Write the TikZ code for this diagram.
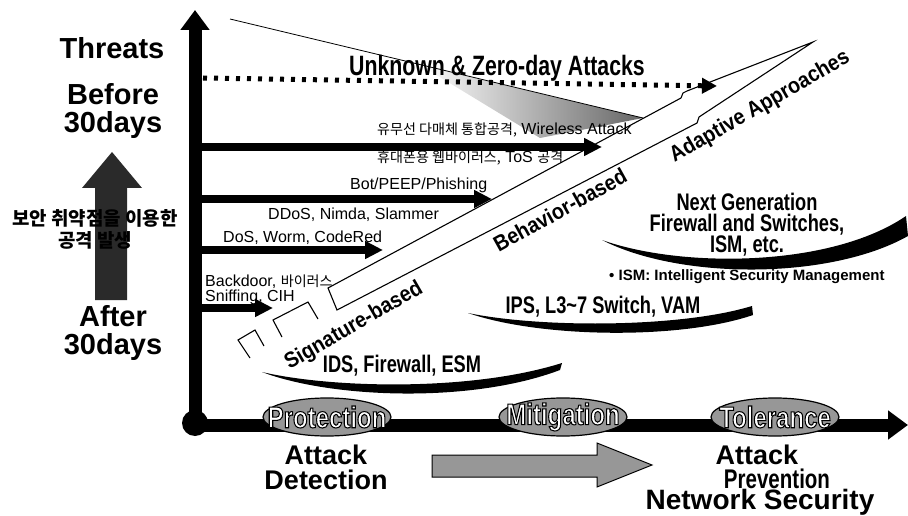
\documentclass[tikz,border=0pt]{standalone}
\usepackage{fontspec}
\setmainfont{Liberation Sans}
\newfontfamily\krfont[Scale=0.88]{Noto Sans CJK KR}
\newfontfamily\condfont[FakeStretch=0.76]{Liberation Sans}
\newfontfamily\slantfont[FakeStretch=0.9]{Liberation Sans}
\newfontfamily\phasefont[FakeStretch=0.8, FakeBold=3.5]{Liberation Sans}
\usepackage{tikz}
\usetikzlibrary{arrows.meta, shapes.geometric, positioning}
\definecolor{stipple}{HTML}{979797}
\definecolor{arrowInk}{HTML}{2A2A2A}
\newcommand{\hangul}[1]{{\krfont #1}}
\newcommand{\outlined}[1]{\special{pdf:code 0 G}#1}

\begin{document}
\begin{tikzpicture}[x=1pt, y=-1pt,
        axis/.style={line width=13pt, -{Triangle[length=20pt, width=28pt]}},
        threat/.style={line width=8pt, -{Triangle[length=18pt, width=17pt]}},
        zeroday/.style={line width=5pt, dash pattern=on 4pt off 7pt, -{Triangle[length=15pt, width=15pt]}},
        band/.style={line width=1.1pt},
        lbl/.style={anchor=west, inner sep=0pt, font=\fontsize{16}{18}\selectfont},
        big/.style={align=center, inner sep=0pt, font=\bfseries\fontsize{29}{28}\selectfont},
        bot/.style={align=center, inner sep=0pt, font=\bfseries\fontsize{27}{25}\selectfont},
        kor/.style={align=center, inner sep=0pt, font=\krfont\bfseries\fontsize{21.5}{22}\selectfont},
        prod/.style={align=center, inner sep=0pt, font=\condfont\bfseries\fontsize{24}{21}\selectfont},
        zerolbl/.style={inner sep=0pt, font=\condfont\bfseries\fontsize{28}{28}\selectfont},
        approach/.style={inner sep=0pt, font=\slantfont\bfseries\fontsize{22}{22}\selectfont},
        note/.style={inner sep=0pt, font=\bfseries\fontsize{15}{15}\selectfont},
        phasebg/.style={draw=black, line width=1.2pt, fill=stipple},
        phase/.style={inner sep=0pt, text=white, font=\phasefont\bfseries\fontsize{30}{30}\selectfont}]
    \useasboundingbox (0,0) rectangle (908,516);

    % beam over the newest attacks
    \shade[left color=white, right color=black!60] (420,65) -- (643,118) -- (540,138) -- cycle;
    \draw[line width=0.8pt] (230,19) -- (643,118);

    % signature / behavior / adaptive band
    \draw[band, fill=white] (328,288) -- (681,98) -- (683,93) -- (687,91) -- (813,42)
        -- (699,117) -- (697,123) -- (337,310) -- cycle;
    \draw[band] (250,358) -- (238,340) -- (255,330) -- (264,346);
    \draw[band] (282,337) -- (273,320) -- (308,302) -- (318,319);

    % threats
    \foreach \i/\y/\e in {1/147/602, 2/199/492, 3/250/383, 4/308/273} {
        \coordinate (s\i) at (201,\y);
        \coordinate (e\i) at (\e,\y);
        \draw[threat] (s\i) -- (e\i);
    }
    \coordinate (z0) at (203,78);
    \coordinate (z1) at (717,86);
    \draw[zeroday] (z0) -- (z1);

    \node[zerolbl] (zero) at (497,68) {Unknown \& Zero-day Attacks};
    \node[lbl] (wire) at (377,130) {\hangul{유무선 다매체 통합공격,} Wireless Attack};
    \node[lbl] (mobi) at (377,158) {\hangul{휴대폰용 웹바이러스,} ToS \hangul{공격}};
    \node[lbl] (phish) at (350,185) {Bot/PEEP/Phishing};
    \node[lbl] (ddos) at (268,215) {DDoS, Nimda, Slammer};
    \node[lbl] (dos) at (223,238) {DoS, Worm, CodeRed};
    \node[lbl] (back) at (205,282) {Backdoor, \hangul{바이러스}};
    \node[lbl] (snif) at (205,297) {Sniffing, CIH};

    \node[approach, rotate=30] (sig) at (354,326) {Signature-based};
    \node[approach, rotate=29] (beh) at (560,210) {Behavior-based};
    \node[approach, rotate=30] (ada) at (760,107) {Adaptive Approaches};

    % products
    \fill (262,372) .. controls (330,398) and (470,404) .. (560,370) -- (562,363)
        .. controls (470,392) and (330,388) .. (262,372) -- cycle;
    \fill (468,313) .. controls (540,338) and (680,340) .. (753,315) -- (752,306)
        .. controls (680,328) and (540,328) .. (468,313) -- cycle;
    \fill (602,240) .. controls (680,280) and (830,280) .. (908,236) -- (906,216)
        .. controls (830,268) and (680,268) .. (602,240) -- cycle;
    \node[prod] (ids) at (402,366) {IDS, Firewall, ESM};
    \node[prod] (ips) at (603,307) {IPS, L3\textasciitilde 7 Switch, VAM};
    \node[prod] (ngen) at (747,225) {Next Generation\\Firewall and Switches,\\ISM, etc.};
    \node[note, anchor=west] (ism) at (609,277) {• ISM: Intelligent Security Management};

    % axes
    \coordinate (o) at (195,425);
    \coordinate (ytop) at (195,10);
    \coordinate (xend) at (908,425);
    \draw[axis] (o) -- (ytop);
    \draw[axis] (o) -- (xend);
    \fill (195,423) circle (13pt);
    \foreach \n/\x/\t in {prot/327/Protection, miti/563/Mitigation, tole/775/Tolerance} {
        \draw[phasebg] (\x,417) ellipse [x radius=64pt, y radius=19pt];
        \node[phase] (\n) at (\x,417) {\outlined{\t}};
    }

    % left side
    \fill[arrowInk] (95,300) -- (127,300) -- (127,188) -- (142,188) -- (112,152)
        -- (82,188) -- (95,188) -- cycle;
    \node[big] (threats) at (112,48) {Threats};
    \node[big] (before) at (113,111) {Before\\30days};
    \node[kor] (vuln) at (95,229) {보안 취약점을 이용한\\공격 발생};
    \node[big] (after) at (113,333) {After\\30days};

    % bottom
    \draw[line width=1pt, fill=stipple] (432,455) -- (597,455) -- (597,443) -- (652,465)
        -- (597,487) -- (597,477) -- (432,477) -- cycle;
    \node[bot] (det) at (326,467) {Attack\\Detection};
    \node[bot] (atk) at (757,455) {Attack};
    \node[bot, font=\condfont\bfseries\fontsize{27}{25}\selectfont] (prev) at (777,479) {Prevention};
    \node[big, font=\bfseries\fontsize{28}{28}\selectfont] (netsec) at (760,502) {Network Security};
\end{tikzpicture}
\end{document}
